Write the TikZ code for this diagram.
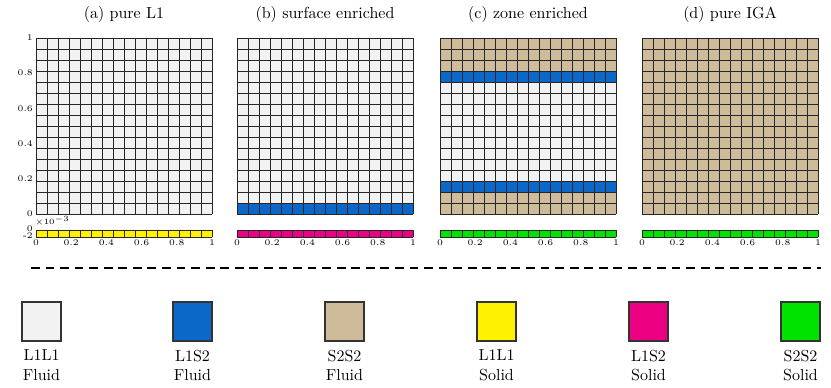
\documentclass[tikz,border=0pt]{standalone}
\usetikzlibrary{positioning}

\definecolor{lonelone}{RGB}{242,242,242}
\definecolor{lonestwo}{RGB}{12,104,200}
\definecolor{stwostwo}{RGB}{205,187,153}
\definecolor{solyellow}{RGB}{255,242,0}
\definecolor{solmagenta}{RGB}{234,0,128}
\definecolor{solgreen}{RGB}{0,226,0}

% draw a 16 x 16 mesh with its lower left corner at (#1,214)
\newcommand{\meshgrid}[1]{%
  \foreach \k in {0,...,16} {
    \draw[meshline] (#1+\k*11,38) -- (#1+\k*11,214);
    \draw[meshline] (#1,38+\k*11) -- (#1+176,38+\k*11);
  }
}
% solid strip below a panel
\newcommand{\solidstrip}[2]{%
  \fill[#2] (#1,230) rectangle (#1+176,237);
  \foreach \k in {0,...,16}
    \draw[meshline] (#1+\k*11,230) -- (#1+\k*11,237);
  \draw[meshline] (#1,230) -- (#1+176,230) (#1,237) -- (#1+176,237);
  \foreach \v/\t in {0/0,0.2/0.2,0.4/0.4,0.6/0.6,0.8/0.8,1/1}
    \node[ticklabel, anchor=north] at (#1+\v*176,239) {\t};
}

\begin{document}
\begin{tikzpicture}[
    x=0.625pt, y=-0.625pt,
    meshline/.style={black!85, line width=0.35pt},
    ticklabel/.style={font=\fontsize{5.4}{6}\selectfont, inner sep=0.5pt},
    paneltitle/.style={font=\normalsize},
    legbox/.style={draw=black!80, line width=0.7pt, minimum size=24.4pt, inner sep=0pt},
    leglabel/.style={align=center, font=\normalsize, inner sep=0pt}
]
\useasboundingbox (0,0) rectangle (831,387);

% titles
\node[paneltitle] (ta) at (124,15) {(a) pure L1};
\node[paneltitle] (tb) at (325,15) {(b) surface enriched};
\node[paneltitle] (tc) at (528,15) {(c) zone enriched};
\node[paneltitle] (td) at (730,15) {(d) pure IGA};

% (a) pure L1
\fill[lonelone] (36,38) rectangle (212,214);
\meshgrid{36}
\solidstrip{36}{solyellow}
\foreach \v/\t in {0/0,0.2/0.2,0.4/0.4,0.6/0.6,0.8/0.8,1/1}
  \node[ticklabel, anchor=east] at (34,214-\v*176) {\t};
\node[ticklabel, anchor=south west] at (34,227) {$\times10^{-3}$};
\node[ticklabel, anchor=east] at (34,229) {0};
\node[ticklabel, anchor=east] at (34,236) {-2};

% (b) surface enriched
\fill[lonelone] (237,38) rectangle (413,214);
\fill[lonestwo] (237,203) rectangle (413,214);
\meshgrid{237}
\solidstrip{237}{solmagenta}

% (c) zone enriched
\fill[lonelone] (440,38) rectangle (616,214);
\fill[stwostwo] (440,38) rectangle (616,71);
\fill[lonestwo] (440,71) rectangle (616,82);
\fill[lonestwo] (440,181) rectangle (616,192);
\fill[stwostwo] (440,192) rectangle (616,214);
\meshgrid{440}
\solidstrip{440}{solgreen}

% (d) pure IGA
\fill[stwostwo] (642,38) rectangle (818,214);
\meshgrid{642}
\solidstrip{642}{solgreen}

% separator
\coordinate (sepl) at (31,268);
\coordinate (sepr) at (821,268);
\draw[line width=0.8pt, dash pattern=on 5.5pt off 3.6pt] (sepl) -- (sepr);

% legend
\foreach \n/\xc/\col/\top/\bot in {
    la/41.5/lonelone/L1L1/Fluid,
    lb/192.5/lonestwo/L1S2/Fluid,
    lc/344.5/stwostwo/S2S2/Fluid,
    ld/496.5/solyellow/L1L1/Solid,
    le/648.5/solmagenta/L1S2/Solid,
    lf/800.5/solgreen/S2S2/Solid} {
  \node[legbox, fill=\col] (\n) at (\xc,321.5) {};
  \node[leglabel, below=5pt of \n] (\n txt) {\top\\\bot};
}

\end{tikzpicture}
\end{document}
